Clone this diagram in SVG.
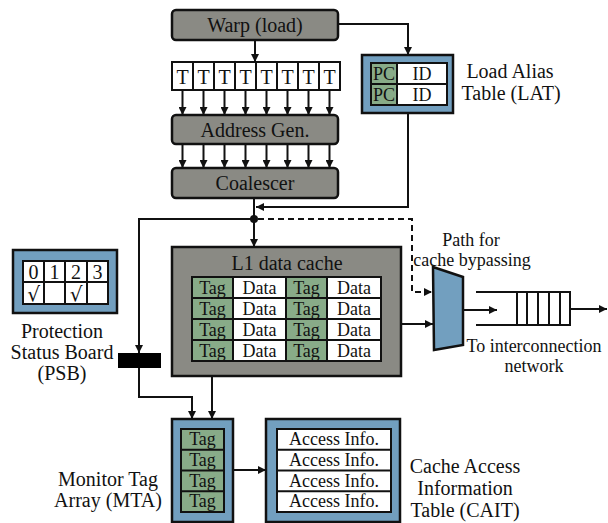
<svg xmlns="http://www.w3.org/2000/svg" width="608" height="523" viewBox="0 0 608 523">
  <style>
    text { fill: #111; text-anchor: middle; }
    .lbl { font-size: 20px; }
    .note { font-size: 18px; }
    .cell { font-size: 18px; }
    .unit { fill: #8a8a84; stroke: #111; stroke-width: 2.5; }
    .blue { fill: #729fbf; stroke: #111; stroke-width: 2.5; }
    .white { fill: #fff; stroke: #111; stroke-width: 2; }
    .green { fill: #88ab88; stroke: #111; stroke-width: 2; }
    .wire { fill: none; stroke: #111; stroke-width: 2; }
    .dash { fill: none; stroke: #111; stroke-width: 2; stroke-dasharray: 6 4; }
  </style>
  <defs>
    <marker id="arrow" viewBox="0 0 10 10" refX="10" refY="5" markerWidth="9" markerHeight="8" markerUnits="userSpaceOnUse" orient="auto">
      <path d="M0,0 L10,5 L0,10 z" fill="#111"/>
    </marker>
  </defs>
  <rect width="608" height="523" fill="#fff"/>

  <!-- warp issuing the load -->
  <g id="warp">
    <rect class="unit" x="172" y="10" width="166" height="30" rx="4"/>
    <text class="lbl" font-family="Liberation Serif" x="255" y="32">Warp (load)</text>
  </g>

  <!-- eight threads -->
  <g id="threads">
    <rect class="white" x="172" y="62" width="168" height="28"/>
    <path class="wire" d="M193,62V90M214,62V90M235,62V90M256,62V90M277,62V90M298,62V90M319,62V90"/>
    <text class="lbl" font-family="Liberation Serif" x="182.5" y="84">T</text>
    <text class="lbl" font-family="Liberation Serif" x="203.5" y="84">T</text>
    <text class="lbl" font-family="Liberation Serif" x="224.5" y="84">T</text>
    <text class="lbl" font-family="Liberation Serif" x="245.5" y="84">T</text>
    <text class="lbl" font-family="Liberation Serif" x="266.5" y="84">T</text>
    <text class="lbl" font-family="Liberation Serif" x="287.5" y="84">T</text>
    <text class="lbl" font-family="Liberation Serif" x="308.5" y="84">T</text>
    <text class="lbl" font-family="Liberation Serif" x="329.5" y="84">T</text>
  </g>

  <g id="address-gen">
    <rect class="unit" x="172" y="115" width="166" height="29" rx="4"/>
    <text class="lbl" font-family="Liberation Serif" x="255" y="137">Address Gen.</text>
  </g>

  <g id="coalescer">
    <rect class="unit" x="172" y="168" width="166" height="30" rx="4"/>
    <text class="lbl" font-family="Liberation Serif" x="255" y="190">Coalescer</text>
  </g>

  <!-- load alias table -->
  <g id="lat">
    <rect class="blue" x="362" y="55" width="91" height="58"/>
    <rect class="green" x="371" y="63" width="26" height="21"/>
    <rect class="green" x="371" y="84" width="26" height="21"/>
    <rect class="white" x="397" y="63" width="50" height="21"/>
    <rect class="white" x="397" y="84" width="50" height="21"/>
    <text class="cell" font-family="Liberation Serif" x="384" y="80">PC</text>
    <text class="cell" font-family="Liberation Serif" x="384" y="101">PC</text>
    <text class="cell" font-family="Liberation Serif" x="422" y="80">ID</text>
    <text class="cell" font-family="Liberation Serif" x="422" y="101">ID</text>
    <text class="lbl" font-family="Liberation Serif" x="510" y="78">Load Alias</text>
    <text class="lbl" font-family="Liberation Serif" x="511" y="100">Table (LAT)</text>
  </g>

  <!-- protection status board -->
  <g id="psb">
    <rect class="blue" x="13" y="250" width="104" height="63"/>
    <rect class="white" x="23" y="261" width="85" height="43"/>
    <path class="wire" d="M23,282H108M44,261V304M65,261V304M87,261V304"/>
    <text class="lbl" font-family="Liberation Serif" x="33.5" y="279">0</text>
    <text class="lbl" font-family="Liberation Serif" x="54.5" y="279">1</text>
    <text class="lbl" font-family="Liberation Serif" x="76" y="279">2</text>
    <text class="lbl" font-family="Liberation Serif" x="97.5" y="279">3</text>
    <text class="lbl" font-family="DejaVu Serif" x="33.5" y="301">√</text>
    <text class="lbl" font-family="DejaVu Serif" x="76" y="301">√</text>
    <text class="lbl" font-family="Liberation Serif" x="62" y="338">Protection</text>
    <text class="lbl" font-family="Liberation Serif" x="62" y="359">Status Board</text>
    <text class="lbl" font-family="Liberation Serif" x="62" y="380">(PSB)</text>
  </g>

  <!-- PSB gate -->
  <g id="psb-gate">
    <rect x="118" y="353" width="43" height="15" fill="#000"/>
  </g>

  <!-- L1 data cache -->
  <g id="l1-cache">
    <rect class="unit" x="172" y="247" width="229" height="129"/>
    <text class="lbl" font-family="Liberation Serif" x="287" y="270">L1 data cache</text>
    <rect class="green" x="192" y="277" width="41" height="84"/>
    <rect class="white" x="233" y="277" width="53" height="84"/>
    <rect class="green" x="286" y="277" width="41" height="84"/>
    <rect class="white" x="327" y="277" width="54" height="84"/>
    <path class="wire" d="M192,298H381M192,319H381M192,340H381"/>
    <text class="cell" font-family="Liberation Serif" x="212.5" y="294">Tag</text>
    <text class="cell" font-family="Liberation Serif" x="259.5" y="294">Data</text>
    <text class="cell" font-family="Liberation Serif" x="306.5" y="294">Tag</text>
    <text class="cell" font-family="Liberation Serif" x="354" y="294">Data</text>
    <text class="cell" font-family="Liberation Serif" x="212.5" y="315">Tag</text>
    <text class="cell" font-family="Liberation Serif" x="259.5" y="315">Data</text>
    <text class="cell" font-family="Liberation Serif" x="306.5" y="315">Tag</text>
    <text class="cell" font-family="Liberation Serif" x="354" y="315">Data</text>
    <text class="cell" font-family="Liberation Serif" x="212.5" y="336">Tag</text>
    <text class="cell" font-family="Liberation Serif" x="259.5" y="336">Data</text>
    <text class="cell" font-family="Liberation Serif" x="306.5" y="336">Tag</text>
    <text class="cell" font-family="Liberation Serif" x="354" y="336">Data</text>
    <text class="cell" font-family="Liberation Serif" x="212.5" y="357">Tag</text>
    <text class="cell" font-family="Liberation Serif" x="259.5" y="357">Data</text>
    <text class="cell" font-family="Liberation Serif" x="306.5" y="357">Tag</text>
    <text class="cell" font-family="Liberation Serif" x="354" y="357">Data</text>
  </g>

  <!-- output multiplexer -->
  <g id="mux">
    <polygon class="blue" stroke-width="2" points="433,267 463,277 463,345 434,350"/>
    <text class="note" font-family="Liberation Serif" x="471" y="246">Path for</text>
    <text class="note" font-family="Liberation Serif" x="472" y="266">cache bypassing</text>
  </g>

  <!-- request queue to the interconnect -->
  <g id="queue">
    <path class="wire" d="M476,292H570V325H476M517,292V325M527,292V325M538,292V325M549,292V325M560,292V325"/>
    <text class="note" font-family="Liberation Serif" x="534" y="352">To interconnection</text>
    <text class="note" font-family="Liberation Serif" x="534" y="372">network</text>
  </g>

  <!-- monitor tag array -->
  <g id="mta">
    <rect class="blue" x="172" y="419" width="61" height="103"/>
    <rect class="green" x="181" y="429" width="43" height="83"/>
    <path class="wire" d="M181,449.75H224M181,470.5H224M181,491.25H224"/>
    <text class="cell" font-family="Liberation Serif" x="202.5" y="445">Tag</text>
    <text class="cell" font-family="Liberation Serif" x="202.5" y="466">Tag</text>
    <text class="cell" font-family="Liberation Serif" x="202.5" y="487">Tag</text>
    <text class="cell" font-family="Liberation Serif" x="202.5" y="507">Tag</text>
    <text class="lbl" font-family="Liberation Serif" x="108" y="486">Monitor Tag</text>
    <text class="lbl" font-family="Liberation Serif" x="108" y="507">Array (MTA)</text>
  </g>

  <!-- cache access information table -->
  <g id="cait">
    <rect class="blue" x="266" y="419" width="134" height="103"/>
    <rect class="white" x="277" y="429" width="114" height="83"/>
    <path class="wire" d="M277,449.75H391M277,470.5H391M277,491.25H391"/>
    <text class="cell" font-family="Liberation Serif" x="334" y="445">Access Info.</text>
    <text class="cell" font-family="Liberation Serif" x="334" y="466">Access Info.</text>
    <text class="cell" font-family="Liberation Serif" x="334" y="487">Access Info.</text>
    <text class="cell" font-family="Liberation Serif" x="334" y="507">Access Info.</text>
    <text class="lbl" font-family="Liberation Serif" x="465" y="473">Cache Access</text>
    <text class="lbl" font-family="Liberation Serif" x="465" y="495">Information</text>
    <text class="lbl" font-family="Liberation Serif" x="465" y="517">Table (CAIT)</text>
  </g>

  <g id="connectors">
    <path class="wire" d="M255,40V62" marker-end="url(#arrow)"/>
    <path class="wire" d="M338,24H408V55" marker-end="url(#arrow)"/>
    <g class="wire" marker-end="url(#arrow)">
      <path d="M182.5,90V115"/><path d="M203.5,90V115"/><path d="M224.5,90V115"/><path d="M245.5,90V115"/>
      <path d="M266.5,90V115"/><path d="M287.5,90V115"/><path d="M308.5,90V115"/><path d="M329.5,90V115"/>
      <path d="M182.5,144V168"/><path d="M203.5,144V168"/><path d="M224.5,144V168"/><path d="M245.5,144V168"/>
      <path d="M266.5,144V168"/><path d="M287.5,144V168"/><path d="M308.5,144V168"/><path d="M329.5,144V168"/>
    </g>
    <path class="wire" d="M408,113V207H256" marker-end="url(#arrow)"/>
    <path class="wire" d="M254,198V247" marker-end="url(#arrow)"/>
    <circle cx="254" cy="219" r="4" fill="#111"/>
    <path class="wire" d="M254,219H139V353" marker-end="url(#arrow)"/>
    <path class="dash" d="M258,219H412V292H432" marker-end="url(#arrow)"/>
    <path class="wire" d="M401,324H433" marker-end="url(#arrow)"/>
    <path class="wire" d="M463,310H497" marker-end="url(#arrow)"/>
    <path class="wire" d="M570,309H607" marker-end="url(#arrow)"/>
    <path class="wire" d="M139,368V397H192V419" marker-end="url(#arrow)"/>
    <path class="wire" d="M212,376V419" marker-end="url(#arrow)"/>
    <path class="wire" d="M233,470H266" marker-end="url(#arrow)"/>
  </g>
</svg>
